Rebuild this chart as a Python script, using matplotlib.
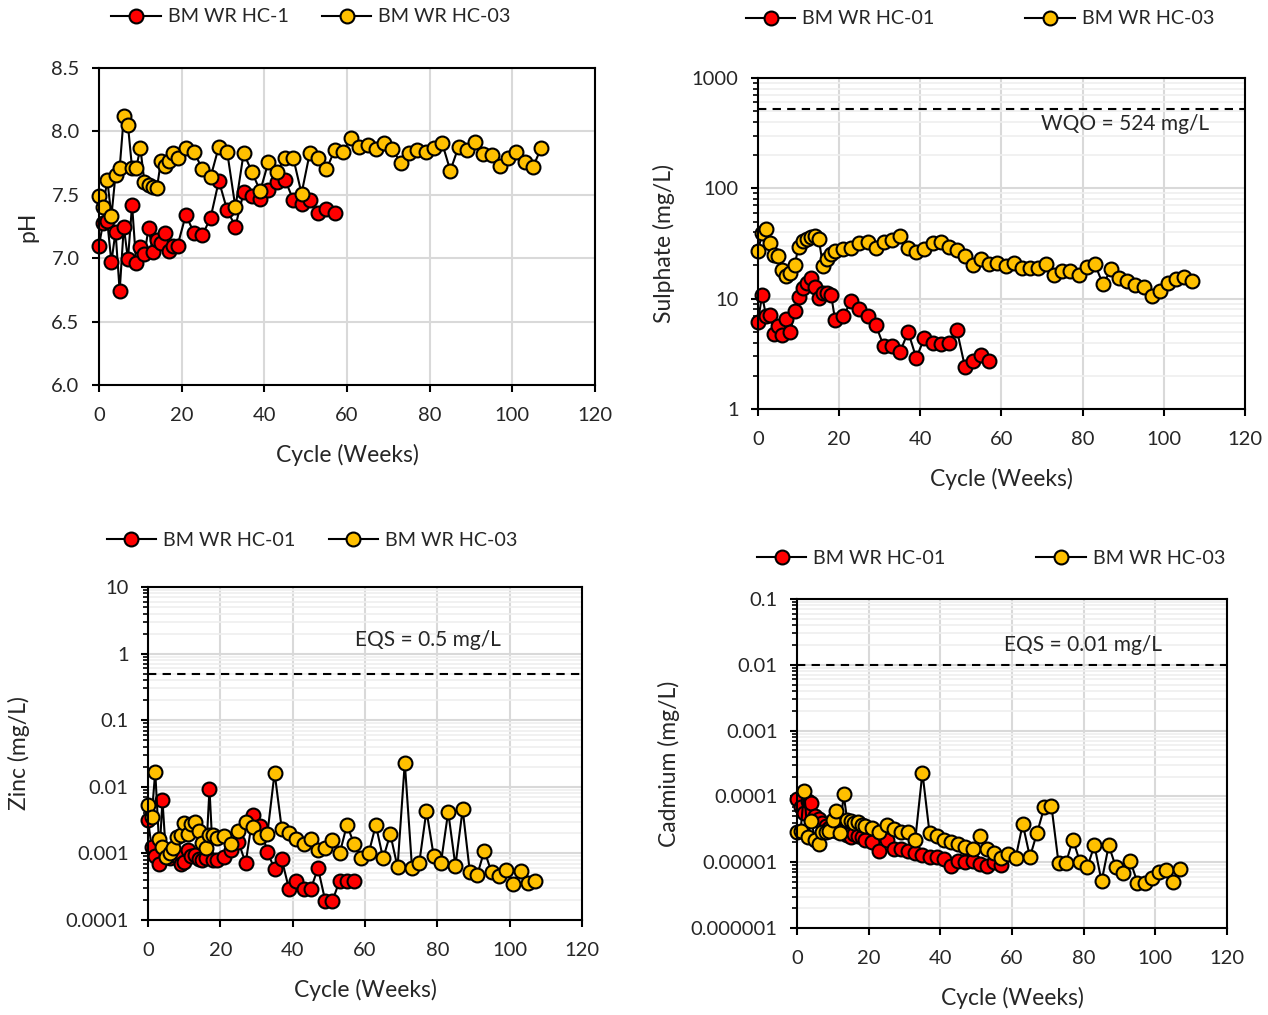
import matplotlib
matplotlib.use("Agg")
import matplotlib.pyplot as plt
from matplotlib.ticker import LogLocator, NullFormatter, FuncFormatter

plt.rcParams['font.family'] = ['Lato', 'DejaVu Sans']

# weeks: weekly to 19, then every two weeks
wk_hc01 = list(range(0, 20)) + list(range(21, 58, 2))
wk_hc03 = list(range(0, 20)) + list(range(21, 108, 2))

ph_hc01 = [7.10, 7.28, 7.29, 6.97, 7.21, 6.74, 7.25, 6.99, 7.42, 6.96,
           7.09, 7.03, 7.24, 7.05, 7.14, 7.12, 7.20, 7.06, 7.10, 7.10,
           7.34, 7.20, 7.18, 7.32, 7.61, 7.38, 7.25, 7.52, 7.49, 7.47,
           7.54, 7.60, 7.62, 7.46, 7.43, 7.46, 7.36, 7.39, 7.36]
ph_hc03 = [7.49, 7.40, 7.62, 7.33, 7.66, 7.71, 8.12, 8.05, 7.71, 7.71,
           7.87, 7.60, 7.58, 7.56, 7.55, 7.77, 7.73, 7.77, 7.83, 7.79,
           7.87, 7.84, 7.70, 7.64, 7.88, 7.84, 7.40, 7.83, 7.68, 7.53,
           7.76, 7.68, 7.79, 7.79, 7.51, 7.83, 7.79, 7.70, 7.85, 7.84,
           7.95, 7.88, 7.89, 7.86, 7.91, 7.86, 7.75, 7.83, 7.85, 7.84,
           7.87, 7.91, 7.69, 7.88, 7.85, 7.92, 7.82, 7.81, 7.73, 7.79,
           7.84, 7.76, 7.72, 7.87]

so4_hc01 = [6.2, 10.8, 6.9, 7.1, 4.8, 5.7, 4.7, 6.6, 5.0, 7.8,
            10.4, 12.4, 13.8, 15.3, 12.7, 10.1, 11.2, 11.2, 10.9, 6.4,
            6.9, 9.6, 8.0, 7.0, 5.8, 3.7, 3.7, 3.3, 5.0, 2.9,
            4.4, 4.0, 3.9, 4.0, 5.2, 2.4, 2.7, 3.1, 2.7]
so4_hc03 = [27, 39, 42.5, 31.7, 24.8, 24.5, 18.2, 16, 17, 20,
            29.6, 33, 35, 36.5, 37, 34.5, 19.8, 23, 25.4, 27,
            28, 28.7, 31.7, 32.8, 29, 32.4, 34, 37, 29, 26.6,
            28, 31.7, 32.8, 29.6, 27.5, 24.3, 20.2, 22.7, 20.5, 21.2,
            19.8, 21.2, 19.1, 19.1, 19.1, 20.5, 16.4, 17.9, 18, 16.4,
            19.5, 20.6, 13.5, 18.4, 15.3, 14.5, 13.3, 12.8, 10.6, 11.8,
            13.9, 15, 15.6, 14.5]

zn_hc01 = [0.0032, 0.00123, 0.00091, 0.00069, 0.0063, 0.0009, 0.00085, 0.00095, 0.0009, 0.00069,
           0.00075, 0.00112, 0.0009, 0.00095, 0.00081, 0.0008, 0.00085, 0.0092, 0.0008, 0.0008,
           0.00089, 0.00112, 0.0015, 0.00071, 0.0038, 0.0026, 0.00106, 0.00058, 0.00081, 0.00029,
           0.00039, 0.00029, 0.00029, 0.0006, 0.000195, 0.000195, 0.00039, 0.00039, 0.00039]
zn_hc03 = [0.0053, 0.0035, 0.0169, 0.00163, 0.00123, 0.00089, 0.0010, 0.00119, 0.00178, 0.00189,
           0.00283, 0.00193, 0.0028, 0.0030, 0.0022, 0.00145, 0.00119, 0.0019, 0.0019, 0.00169,
           0.0018, 0.0014, 0.0022, 0.0030, 0.00247, 0.00178, 0.00195, 0.0163, 0.0023, 0.0020,
           0.00163, 0.0014, 0.00163, 0.00112, 0.00119, 0.00159, 0.0010, 0.00267, 0.00138, 0.00086,
           0.0010, 0.00267, 0.00084, 0.00195, 0.00062, 0.023, 0.00061, 0.00072, 0.0044, 0.00091,
           0.00072, 0.0042, 0.00065, 0.0046, 0.00052, 0.00047, 0.0011, 0.00052, 0.00045, 0.00056,
           0.00035, 0.00054, 0.00036, 0.00039]

cd_hc01 = [9e-5, 7e-5, 5.5e-5, 8.5e-5, 8e-5, 5e-5, 4.5e-5, 4e-5, 3.5e-5, 3.3e-5,
           3.2e-5, 3e-5, 3e-5, 2.8e-5, 2.6e-5, 2.4e-5, 2.7e-5, 2.5e-5, 2.4e-5, 2.2e-5,
           2.0e-5, 1.5e-5, 2.2e-5, 1.6e-5, 1.6e-5, 1.5e-5, 1.4e-5, 1.3e-5, 1.2e-5, 1.2e-5,
           1.1e-5, 8.7e-6, 1.05e-5, 1e-5, 1.05e-5, 9.5e-6, 8.7e-6, 1.0e-5, 9e-6]
cd_hc03 = [2.9e-5, 3.0e-5, 1.22e-4, 2.4e-5, 4.3e-5, 2.2e-5, 1.9e-5, 2.9e-5, 2.9e-5, 3.0e-5,
           4.4e-5, 5.9e-5, 2.8e-5, 1.08e-4, 4.4e-5, 4.2e-5, 3.9e-5, 4.1e-5, 3.7e-5, 3.5e-5,
           3.3e-5, 2.9e-5, 3.7e-5, 3.2e-5, 2.9e-5, 2.9e-5, 2.2e-5, 2.3e-4, 2.75e-5, 2.5e-5,
           2.2e-5, 2.0e-5, 1.9e-5, 1.7e-5, 1.6e-5, 2.5e-5, 1.6e-5, 1.36e-5, 1.15e-5, 1.33e-5,
           1.15e-5, 3.8e-5, 1.2e-5, 2.8e-5, 6.8e-5, 7.2e-5, 9.6e-6, 9.6e-6, 2.2e-5, 1.0e-5,
           8.4e-6, 1.8e-5, 5.1e-6, 1.8e-5, 8.4e-6, 6.8e-6, 1.05e-5, 4.9e-6, 4.8e-6, 5.7e-6,
           7.2e-6, 7.7e-6, 5e-6, 7.8e-6]

RED = "#FF0000"
GOLD = "#FFC000"
TXT = "#262626"
W, H = 1268, 1015

fig = plt.figure(figsize=(12.68, 10.15), dpi=100)


def px_axes(l, r, t, b):
    return fig.add_axes([l / W, 1 - b / H, (r - l) / W, (b - t) / H])


def draw(ax, y1, y2, lab1, lab2, ylab, ylab_x):
    kw = dict(color="black", lw=1.5, marker="o", ms=10, mec="black", mew=1.5, clip_on=False)
    ax.plot(wk_hc01, y1, mfc=RED, label=lab1, zorder=3, **kw)
    ax.plot(wk_hc03, y2, mfc=GOLD, label=lab2, zorder=4, **kw)
    ax.set_xlim(0, 120)
    ax.set_xticks(range(0, 121, 20))
    for s in ax.spines.values():
        s.set_linewidth(1.5)
        s.set_color("black")
        s.set_zorder(5)
    ax.tick_params(axis="both", which="major", direction="out", length=5, width=1.5,
                   labelsize=14.5, labelcolor=TXT, pad=9)
    ax.tick_params(axis="x", which="major", pad=11)
    ax.tick_params(axis="x", which="minor", bottom=False)
    ax.grid(True, which="major", color="#d9d9d9", lw=1.5, zorder=0)
    ax.set_axisbelow(True)
    ax.set_xlabel("Cycle (Weeks)", fontsize=16.5, color=TXT, labelpad=14)
    ax.set_ylabel(ylab, fontsize=16.5, color=TXT)
    # y label centred on the reference pixel column
    bb = ax.get_position()
    ax.yaxis.set_label_coords((ylab_x + 10) / W, bb.y0 + bb.height / 2,
                              transform=fig.transFigure)


def logaxis(ax, lo, hi, fmt):
    ax.set_yscale("log")
    ax.set_ylim(lo, hi)
    ax.yaxis.set_major_locator(LogLocator(base=10, numticks=20))
    ax.yaxis.set_minor_locator(LogLocator(base=10, subs=range(2, 10), numticks=20))
    ax.yaxis.set_minor_formatter(NullFormatter())
    ax.yaxis.set_major_formatter(FuncFormatter(fmt))
    ax.tick_params(axis="y", which="minor", direction="out", length=3.5, width=1.2)
    ax.grid(True, which="minor", axis="y", color="#efefef", lw=1.2, zorder=0)


def legend(ax, cx, cy, spacing):
    ax.legend(loc="center", bbox_to_anchor=(cx / W, 1 - cy / H),
              bbox_transform=fig.transFigure, ncol=2, frameon=False, fontsize=14.2,
              handlelength=2.5, handletextpad=0.35, columnspacing=spacing,
              labelcolor=TXT)


def note(ax, x, y, s):
    ax.text(x / W, 1 - y / H, s, transform=fig.transFigure,
            ha="center", va="center", fontsize=15, color=TXT)


def decimal(v, p):
    return f"{v:.10f}".rstrip("0").rstrip(".")


# pH
ax1 = px_axes(99, 595, 68, 385)
draw(ax1, ph_hc01, ph_hc03, "BM WR HC-1", "BM WR HC-03", "pH", 28)
ax1.set_ylim(6.0, 8.5)
ax1.set_yticks([6.0, 6.5, 7.0, 7.5, 8.0, 8.5])
ax1.yaxis.set_major_formatter(FuncFormatter(lambda v, p: f"{v:.1f}"))
legend(ax1, 311, 17, 1.7)

# sulphate
ax2 = px_axes(758, 1245, 78, 409)
draw(ax2, so4_hc01, so4_hc03, "BM WR HC-01", "BM WR HC-03", "Sulphate (mg/L)", 665)
logaxis(ax2, 1, 1000, decimal)
ax2.axhline(524, color="black", lw=1.5, ls=(0, (4, 3)), zorder=2)
note(ax2, 1125, 124, "WQO = 524 mg/L")
legend(ax2, 980, 19, 4.6)

# zinc
ax3 = px_axes(148, 582, 587, 920)
draw(ax3, zn_hc01, zn_hc03, "BM WR HC-01", "BM WR HC-03", "Zinc (mg/L)", 20)
logaxis(ax3, 1e-4, 10, decimal)
ax3.axhline(0.5, color="black", lw=1.5, ls=(0, (4, 3)), zorder=2)
note(ax3, 428, 640, "EQS = 0.5 mg/L")
legend(ax3, 312, 540, 1.7)

# cadmium
ax4 = px_axes(797, 1227, 599, 928)
draw(ax4, cd_hc01, cd_hc03, "BM WR HC-01", "BM WR HC-03", "Cadmium (mg/L)", 670)
logaxis(ax4, 1e-6, 0.1, decimal)
ax4.axhline(0.01, color="black", lw=1.5, ls=(0, (4, 3)), zorder=2)
note(ax4, 1083, 645, "EQS = 0.01 mg/L")
legend(ax4, 991, 558, 4.6)

fig.savefig("out.png", dpi=100, facecolor="white")
